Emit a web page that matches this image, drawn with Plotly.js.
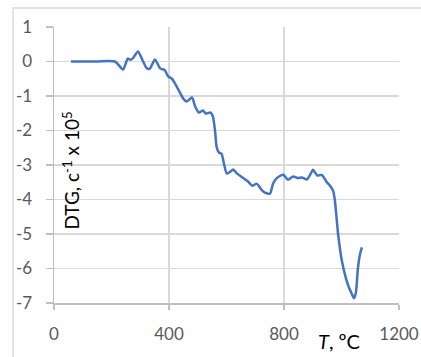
<!DOCTYPE html>
<html><head><meta charset="utf-8">
<script src="https://cdn.plot.ly/plotly-3.0.1.min.js"></script>
<style>html,body{margin:0;padding:0;background:#fff}#c{width:421px;height:357px}</style>
</head><body><div id="c"></div>
<script>
var temperature = [59, 100, 150, 212, 240, 257, 265, 275, 292, 310, 323, 334, 351, 369, 385, 397, 410, 421, 438, 449, 462, 480, 490, 504, 518, 528, 543, 552, 560, 566, 574, 583, 591, 601, 612, 623, 637, 657, 675, 690, 705, 722, 734, 751, 762, 775, 797, 814, 832, 849, 862, 880, 890, 901, 915, 932, 949, 960, 971, 977, 988, 1001, 1016, 1026, 1036, 1043, 1050, 1057, 1064, 1071];
var dtg = [0, 0, 0, 0, -0.23, 0.09, 0.05, 0.1, 0.29, 0.0, -0.2, -0.2, 0.06, -0.2, -0.25, -0.43, -0.5, -0.64, -0.9, -1.07, -1.16, -1.04, -1.28, -1.48, -1.42, -1.51, -1.48, -1.57, -2.0, -2.49, -2.64, -2.68, -2.96, -3.25, -3.2, -3.13, -3.25, -3.37, -3.48, -3.6, -3.54, -3.72, -3.8, -3.83, -3.54, -3.38, -3.28, -3.43, -3.33, -3.38, -3.36, -3.42, -3.3, -3.14, -3.3, -3.29, -3.5, -3.6, -3.75, -4.03, -4.99, -5.77, -6.3, -6.55, -6.74, -6.86, -6.7, -6.0, -5.6, -5.39];
var xTicks = [0, 400, 800, 1200];
var yTicks = [1, 0, -1, -2, -3, -4, -5, -6, -7];

var grid = '#d9d9d9';
var axisCol = '#bfbfbf';
var font = 'Lato, "Open Sans", sans-serif';

Plotly.newPlot('c', [{
  x: temperature, y: dtg, type: 'scatter', mode: 'lines',
  line: {color: '#4472C4', width: 2.5, shape: 'spline', smoothing: 0.6},
  hoverinfo: 'none'
}], {
  width: 421, height: 357,
  margin: {l: 54, r: 22, t: 27, b: 54},
  paper_bgcolor: '#fff', plot_bgcolor: '#fff',
  showlegend: false,
  xaxis: {
    range: [0, 1200], tickvals: xTicks, ticktext: xTicks.map(String),
    showgrid: true, gridcolor: grid, gridwidth: 1.5, zeroline: false,
    showline: true, linecolor: axisCol, linewidth: 1.5,
    ticks: 'outside', ticklen: 5, tickcolor: axisCol, tickwidth: 1.5,
    ticklabelstandoff: 10,
    tickfont: {family: font, size: 17, color: '#595959'}
  },
  yaxis: {
    range: [-7, 1], tickvals: yTicks, ticktext: yTicks.map(String),
    showgrid: true, gridcolor: grid, gridwidth: 1.5, zeroline: false,
    showline: true, linecolor: axisCol, linewidth: 1.5,
    ticks: 'outside', ticklen: 7, tickcolor: axisCol, tickwidth: 1.5,
    ticklabelstandoff: 10,
    tickfont: {family: font, size: 17, color: '#595959'}
  },
  shapes: [{
    type: 'rect', xref: 'paper', yref: 'paper',
    x0: -0.1188, x1: 1.08, y0: -0.21, y1: 1.069,
    line: {color: grid, width: 1.5}, fillcolor: 'rgba(0,0,0,0)', layer: 'below'
  }],
  annotations: [{
    xref: 'x', yref: 'paper', x: 0, y: (303 - 171) / 276, xanchor: 'left', yanchor: 'middle',
    xshift: 2, textangle: -90, showarrow: false,
    text: 'DTG, c<sup>-1</sup> x 10<sup>5</sup>',
    font: {family: font, size: 19, color: '#000'}
  }, {
    xref: 'paper', yref: 'paper', x: (339 - 54) / 345, y: -(341 - 303) / 276,
    xanchor: 'center', yanchor: 'middle', showarrow: false,
    text: '<i>T</i>, \u00baC',
    font: {family: font, size: 20, color: '#000'}
  }]
}, {staticPlot: true});
</script>
</body></html>
